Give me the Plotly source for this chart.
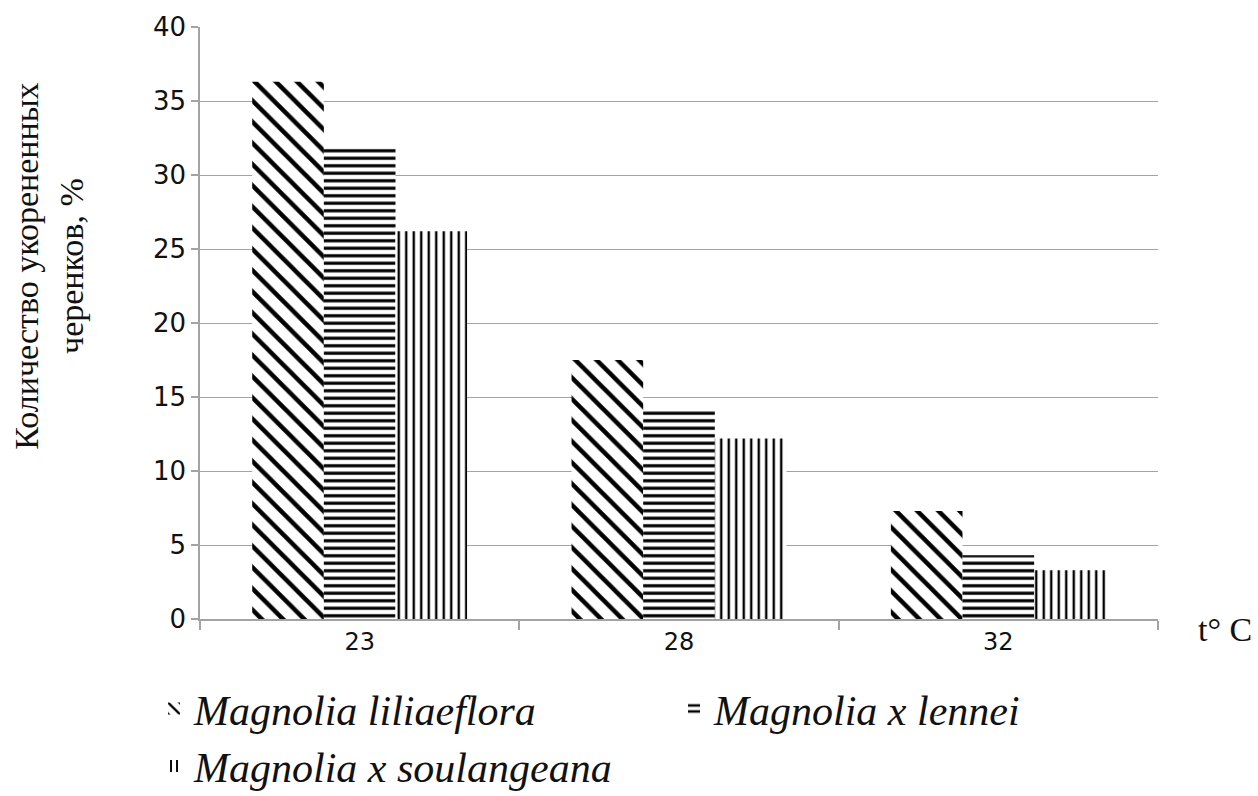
import plotly.graph_objects as go

# Rooting temperature (°C) and share of rooted cuttings (%) per species
temperatures = ["23", "28", "32"]
liliaeflora = [36.3, 17.5, 7.3]
lennei = [31.8, 14.1, 4.3]
soulangeana = [26.2, 12.2, 3.3]

series = [
    ("Magnolia liliaeflora", liliaeflora, "\\", 15, 0.3),
    ("Magnolia x lennei", lennei, "-", 7.5, 0.42),
    ("Magnolia x soulangeana", soulangeana, "|", 7.5, 0.32),
]

fig = go.Figure()
for name, values, shape, size, solidity in series:
    fig.add_trace(go.Bar(
        x=temperatures,
        y=values,
        name="<i>" + name + "</i>",
        marker=dict(
            color="white",
            line=dict(width=0),
            pattern=dict(shape=shape, size=size, solidity=solidity,
                         fgcolor="black", bgcolor="white", fillmode="replace"),
        ),
    ))

axis_grey = "#a3a3a3"
fig.update_layout(
    width=1258,
    height=796,
    margin=dict(l=200, r=100, t=27, b=177, autoexpand=False),
    paper_bgcolor="white",
    plot_bgcolor="white",
    barmode="group",
    bargap=0.327,
    bargroupgap=0,
    showlegend=True,
    legend=dict(
        orientation="h",
        x=-0.048,
        xanchor="left",
        y=-0.094,
        yanchor="top",
        entrywidth=475,
        entrywidthmode="pixels",
        font=dict(family="Liberation Serif", size=42, color="#111111"),
    ),
    xaxis=dict(
        showline=True,
        linecolor=axis_grey,
        linewidth=1.5,
        ticks="outside",
        tickson="boundaries",
        ticklen=9,
        tickcolor=axis_grey,
        tickwidth=1.5,
        showgrid=False,
        tickfont=dict(family="DejaVu Sans", size=24, color="#111111"),
    ),
    yaxis=dict(
        range=[0, 40],
        dtick=5,
        showline=True,
        linecolor=axis_grey,
        linewidth=1.5,
        ticks="outside",
        ticklen=7,
        tickcolor=axis_grey,
        tickwidth=1.5,
        showgrid=True,
        gridcolor=axis_grey,
        gridwidth=1.3,
        zeroline=False,
        tickfont=dict(family="DejaVu Sans", size=26, color="#111111"),
    ),
    annotations=[
        dict(
            text="Количество укорененных<br>черенков, %",
            textangle=-90,
            xref="paper", yref="paper",
            x=-0.158, y=0.596,
            xanchor="center", yanchor="middle",
            showarrow=False,
            font=dict(family="Liberation Serif", size=34, color="#111111"),
        ),
        dict(
            text="t° C",
            xref="paper", yref="paper",
            x=1.04, y=-0.018,
            xanchor="left", yanchor="middle",
            showarrow=False,
            font=dict(family="Liberation Serif", size=34, color="#111111"),
        ),
    ],
)

fig.write_html("out.html")
